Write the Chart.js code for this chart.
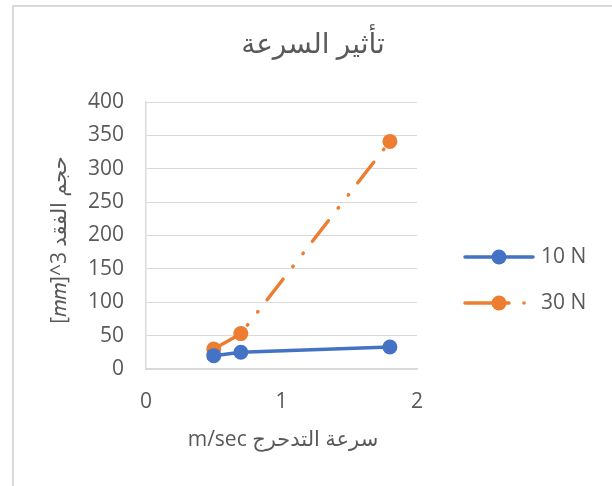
<!DOCTYPE html>
<html>
<head>
<meta charset="utf-8">
<script src="https://cdn.jsdelivr.net/npm/chart.js@4/dist/chart.umd.min.js"></script>
<style>
  html, body { margin: 0; padding: 0; background: #ffffff; }
  #wrap { position: relative; width: 612px; height: 486px; }
</style>
</head>
<body>
<div id="wrap"><canvas id="chart" width="612" height="486"></canvas></div>
<script>
// Rolling speed (m/sec) and wear volume for two loads
const speeds = [0.5, 0.7, 1.8];
const volume10N = [20, 25, 33];
const volume30N = [30, 53, 341];
const seriesNames = ['10 N', '30 N'];
const yTicks = [0, 50, 100, 150, 200, 250, 300, 350, 400];
const xTicks = [0, 1, 2];

const chartTitle = 'تأثير السرعة';
const xTitle = 'سرعة التدحرج m/sec';
const yTitle = '[𝑚𝑚]^3 حجم الفقد';

const BLUE = '#4472C4';
const ORANGE = '#ED7D31';
const TEXT = '#595959';
const GRID = '#d9d9d9';
const FONT = '"Open Sans", "DejaVu Sans", sans-serif';
const DASH_DOT_DOT = [26, 16, 0.5, 16, 0.5, 15];

const toPoints = (ys) => speeds.map((x, i) => ({ x, y: ys[i] }));

// Titles, legend and frame drawn on the canvas
const decorations = {
  id: 'decorations',
  afterDraw(chart) {
    const ctx = chart.ctx;
    ctx.save();

    // outer frame
    ctx.fillStyle = GRID;
    ctx.fillRect(12, 5, 600, 2);
    ctx.fillRect(12, 5, 2, 481);

    ctx.fillStyle = TEXT;
    ctx.textBaseline = 'middle';
    ctx.textAlign = 'center';

    // chart title
    ctx.font = '28px ' + FONT;
    ctx.fillText(chartTitle, 313, 45);

    // x axis title (right-to-left line)
    ctx.save();
    ctx.direction = 'rtl';
    ctx.textAlign = 'center';
    ctx.font = '21px ' + FONT;
    ctx.fillText(xTitle, 283, 440);
    ctx.restore();

    // y axis title (rotated)
    ctx.save();
    ctx.translate(60, 240);
    ctx.rotate(-Math.PI / 2);
    ctx.direction = 'ltr';
    ctx.font = '21px ' + FONT;
    ctx.fillText(yTitle, 0, 0);
    ctx.restore();

    // legend
    const ds = chart.data.datasets;
    const rows = [257, 303];
    ds.forEach((d, i) => {
      const y = rows[i];
      ctx.save();
      ctx.strokeStyle = d.borderColor;
      ctx.lineWidth = d.borderWidth;
      ctx.lineCap = 'round';
      ctx.beginPath();
      if (d.borderDash && d.borderDash.length) {
        ctx.moveTo(465, y); ctx.lineTo(509, y);
        ctx.stroke();
        ctx.beginPath();
        ctx.arc(524, y, 1.8, 0, Math.PI * 2);
        ctx.fillStyle = d.borderColor;
        ctx.fill();
      } else {
        ctx.moveTo(465, y); ctx.lineTo(533, y);
        ctx.stroke();
      }
      ctx.beginPath();
      ctx.arc(499, y, d.pointRadius, 0, Math.PI * 2);
      ctx.fillStyle = d.backgroundColor;
      ctx.fill();
      ctx.restore();

      ctx.fillStyle = TEXT;
      ctx.textAlign = 'left';
      ctx.font = '21px ' + FONT;
      ctx.fillText(d.label, 541, y);
    });

    ctx.restore();
  }
};

new Chart(document.getElementById('chart'), {
  type: 'line',
  data: {
    datasets: [
      {
        label: seriesNames[0],
        data: toPoints(volume10N),
        borderColor: BLUE,
        backgroundColor: BLUE,
        borderWidth: 3.5,
        pointRadius: 7.5,
        pointHoverRadius: 7.5,
        pointBorderWidth: 0,
        borderCapStyle: 'round',
        tension: 0
      },
      {
        label: seriesNames[1],
        data: toPoints(volume30N),
        borderColor: ORANGE,
        backgroundColor: ORANGE,
        borderWidth: 3.5,
        borderDash: DASH_DOT_DOT,
        borderCapStyle: 'round',
        pointRadius: 7.5,
        pointHoverRadius: 7.5,
        pointBorderWidth: 0,
        tension: 0
      }
    ]
  },
  options: {
    responsive: false,
    animation: false,
    events: [],
    layout: { padding: { left: 0, top: 102, right: 195, bottom: 0 } },
    plugins: {
      legend: { display: false },
      title: { display: false },
      tooltip: { enabled: false }
    },
    scales: {
      x: {
        type: 'linear',
        min: xTicks[0],
        max: xTicks[xTicks.length - 1],
        afterBuildTicks(scale) { scale.ticks = xTicks.map(v => ({ value: v })); },
        afterFit(scale) { scale.height = 117; },
        grid: { display: false, drawTicks: false },
        border: { display: true, color: GRID, width: 1.5 },
        ticks: { color: TEXT, font: { family: FONT, size: 21 }, padding: 20, maxRotation: 0 }
      },
      y: {
        type: 'linear',
        min: yTicks[0],
        max: yTicks[yTicks.length - 1],
        afterBuildTicks(scale) { scale.ticks = yTicks.map(v => ({ value: v })); },
        afterFit(scale) { scale.width = 146; },
        grid: { color: GRID, lineWidth: 1, drawTicks: false },
        border: { display: true, color: GRID, width: 1.5 },
        ticks: { color: TEXT, font: { family: FONT, size: 21 }, padding: 22 }
      }
    }
  },
  plugins: [decorations]
});
</script>
</body>
</html>
